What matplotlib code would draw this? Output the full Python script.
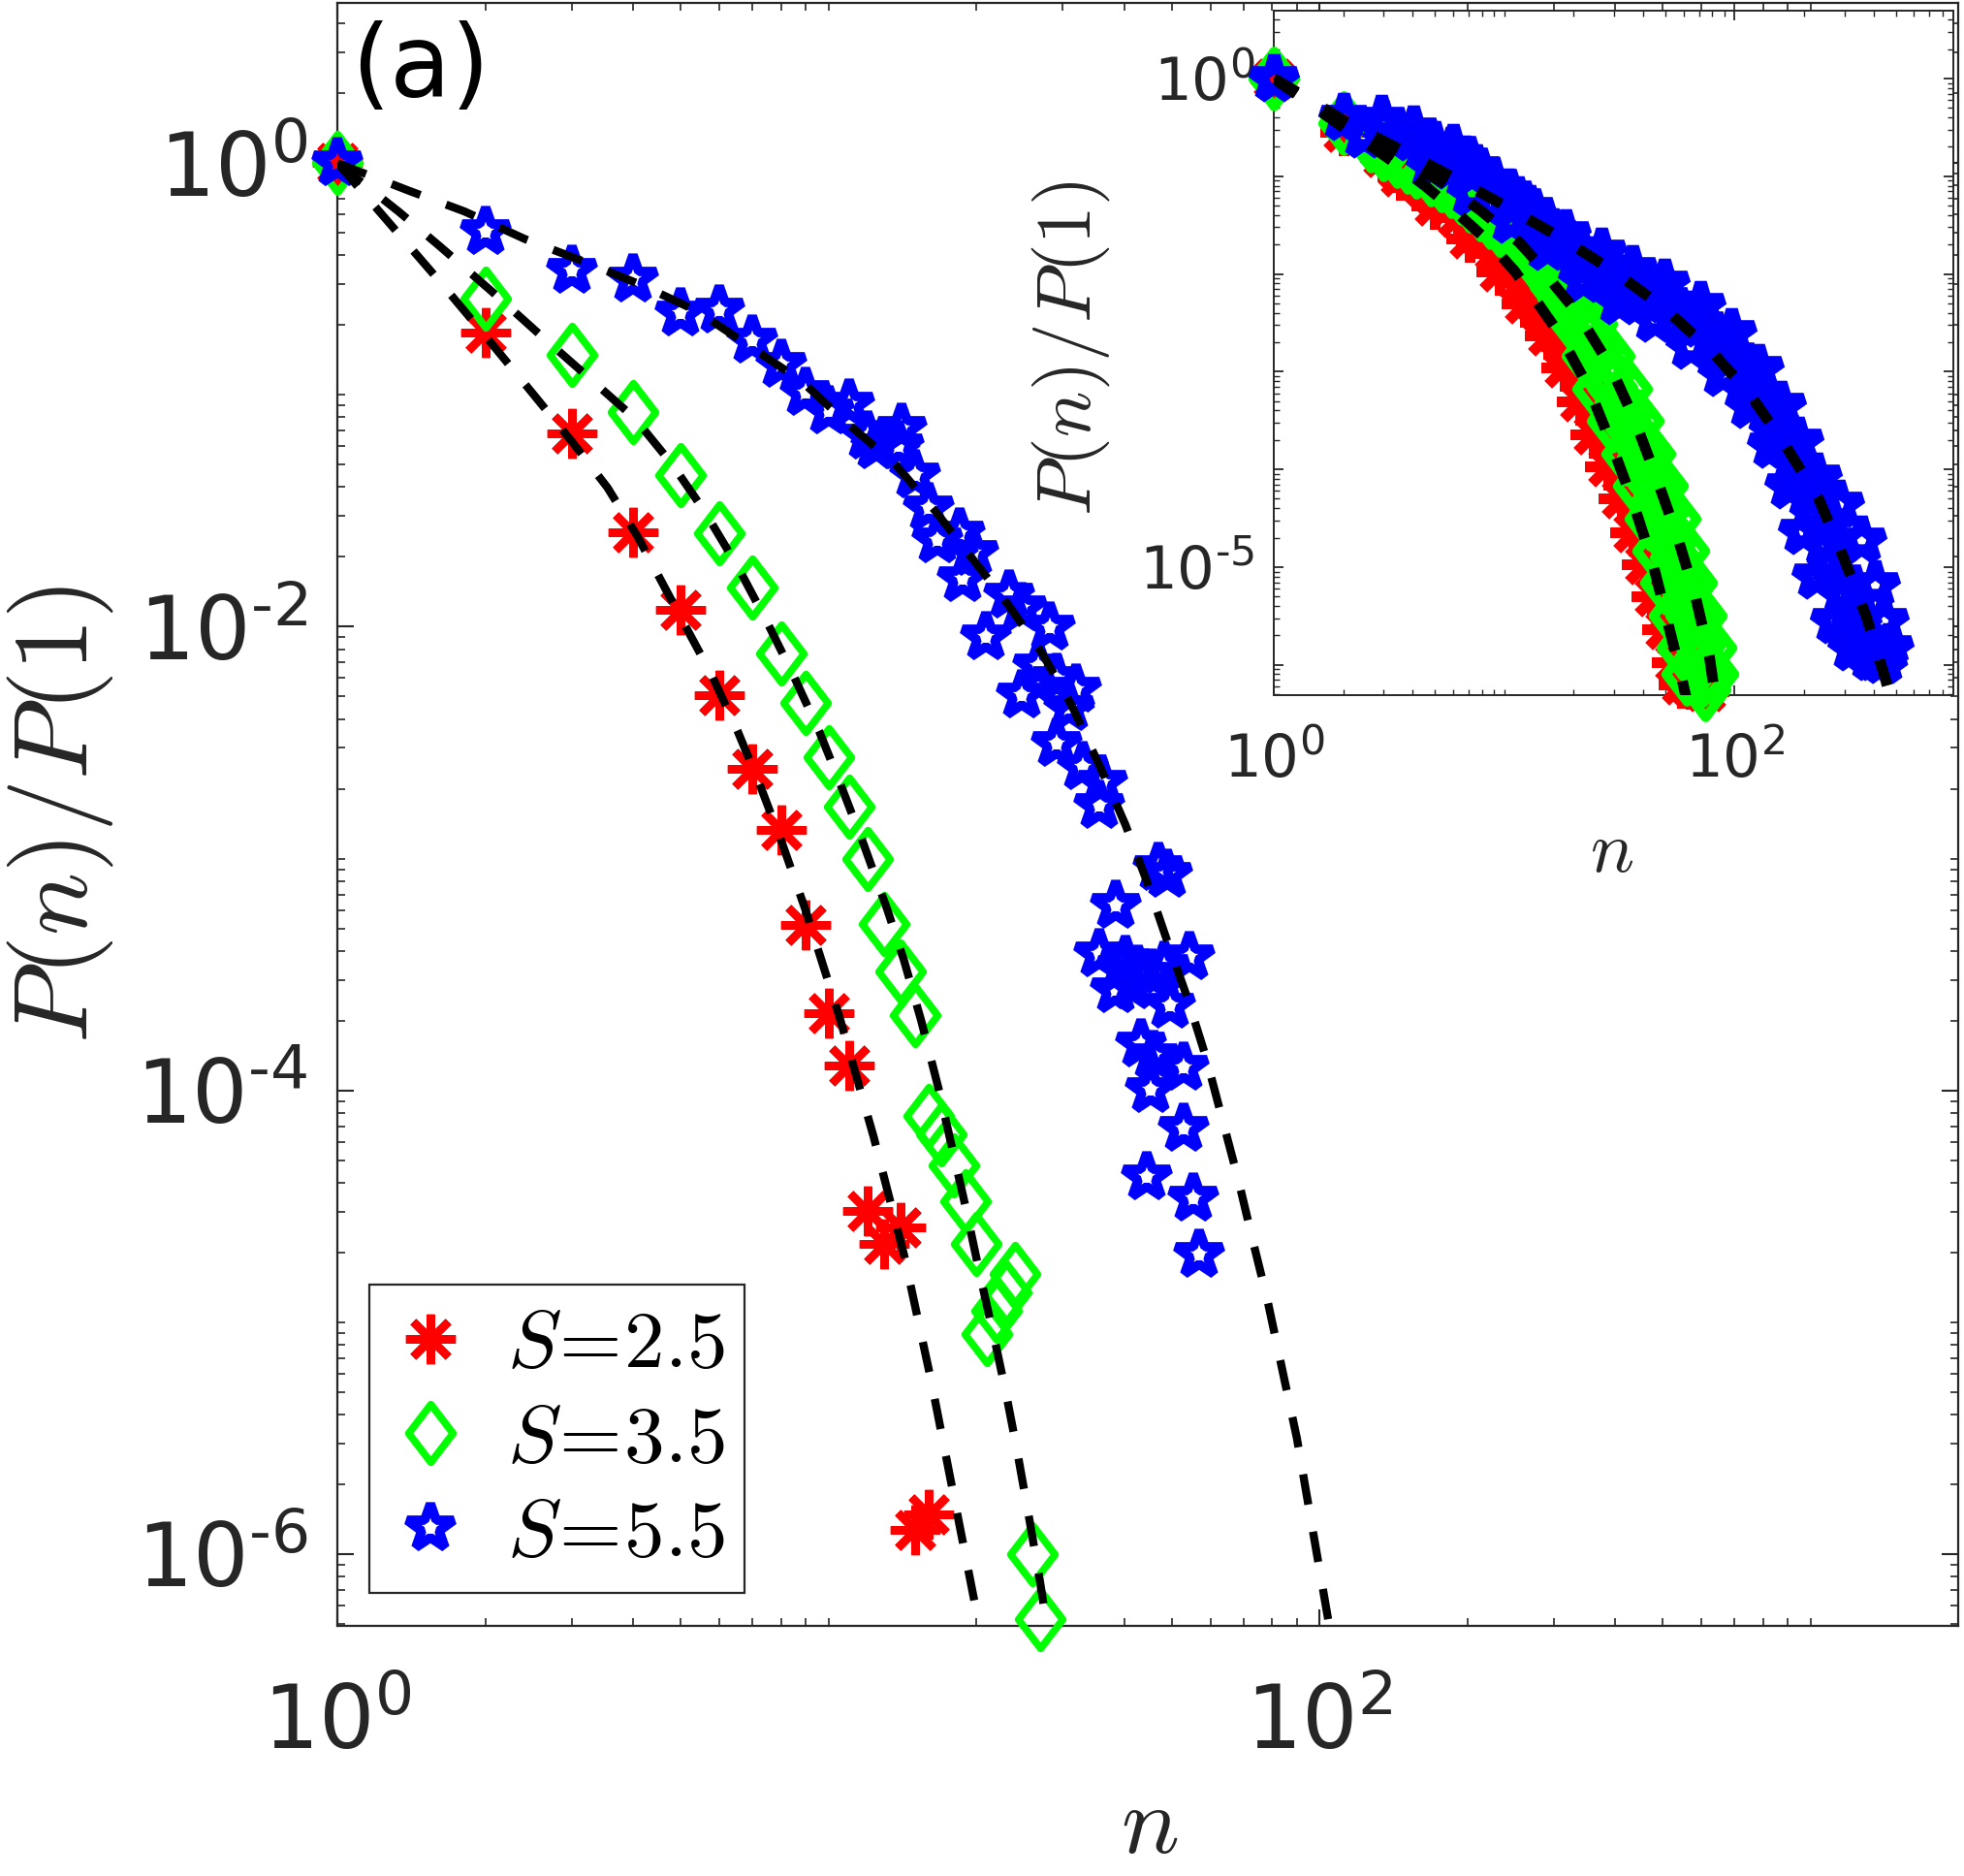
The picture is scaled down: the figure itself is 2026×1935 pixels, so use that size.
import numpy as np
import matplotlib
matplotlib.use('Agg')
import matplotlib.pyplot as plt
from matplotlib.path import Path
from matplotlib.ticker import FixedLocator, FixedFormatter, LogLocator, NullFormatter

plt.rcParams['font.family'] = ['DejaVu Sans']
plt.rcParams['mathtext.fontset'] = 'cm'

GREY = '#262626'
RED, GREEN, BLUE = '#ff0000', '#00ff00', '#0000ff'

# ---------------- main panel data (P(n)/P(1) stored as log10) ----------------
n_s25 = [1, 2, 3, 4, 5, 6, 7, 8, 9, 10, 11, 12, 13, 14, 15, 16]
logp_s25 = [0.0, -0.73, -1.165, -1.591, -1.927, -2.297, -2.611, -2.876, -3.286,
            -3.665, -3.892, -4.519, -4.66, -4.59, -5.897, -5.827]

n_s35 = [1, 2, 3, 4, 5, 6, 7, 8, 9, 10, 11, 12, 13, 14, 15, 16, 17, 18, 19, 20,
         21, 22, 23, 24, 26, 27]
logp_s35 = [0.0, -0.585, -0.828, -1.075, -1.344, -1.598, -1.83, -2.114, -2.329,
            -2.562, -2.777, -3.0, -3.28, -3.485, -3.676, -4.108, -4.19, -4.324,
            -4.48, -4.66, -5.05, -4.95, -4.87, -4.79, -6.0, -6.28]

n_s55 = [1, 2, 3, 4, 5, 6, 7, 8, 9, 10, 11, 12, 12.5, 14.1, 13.9, 15, 16, 16.7,
         18.5, 19.7, 18.8, 23.3, 20.9, 24.7, 28.3, 26.7, 24.7, 29.2, 31.0, 32.0,
         29.2, 33.0, 36.1, 35.6, 47.0, 49.0, 38.4, 35.6, 39.5, 40.2, 41.5, 42.7,
         45.5, 48.2, 54.4, 38.4, 49.7, 43.4, 46.0, 52.8, 45.4, 53.0, 44.4, 55.3,
         56.9]
logp_s55 = [0.0, -0.297, -0.463, -0.50, -0.649, -0.634, -0.765, -0.87, -0.99,
            -1.068, -1.04, -1.18, -1.222, -1.145, -1.222, -1.347, -1.487, -1.626,
            -1.598, -1.682, -1.794, -1.863, -2.045, -1.919, -2.003, -2.17, -2.296,
            -2.226, -2.351, -2.268, -2.505, -2.603, -2.672, -2.77, -3.04, -3.07,
            -3.202, -3.411, -3.47, -3.439, -3.55, -3.481, -3.50, -3.467, -3.425,
            -3.565, -3.635, -3.802, -3.85, -3.90, -3.997, -4.165, -4.374, -4.464,
            -4.708]

# fitted curves (dashed), log10 n vs log10 P
fit25_logn = [0.0, 0.1, 0.2, 0.301, 0.4, 0.477, 0.55, 0.611, 0.686, 0.762, 0.815,
              0.86, 0.906, 0.953, 1.022, 1.092, 1.154, 1.209, 1.272, 1.32]
fit25_logp = [0.0, -0.245, -0.49, -0.745, -1.0, -1.2, -1.4, -1.61, -1.908, -2.207,
              -2.45, -2.68, -2.936, -3.22, -3.68, -4.2, -4.71, -5.25, -5.93, -6.45]

fit35_logn = [0.0, 0.125, 0.209, 0.315, 0.407, 0.509, 0.605, 0.682, 0.747, 0.815,
              0.875, 0.928, 0.981, 1.027, 1.072, 1.12, 1.154, 1.189, 1.224, 1.251,
              1.279, 1.307, 1.341, 1.362, 1.383, 1.41, 1.431, 1.455]
fit35_logp = [0.0, -0.21, -0.36, -0.555, -0.73, -0.92, -1.10, -1.30, -1.50, -1.74,
              -1.98, -2.207, -2.45, -2.693, -2.94, -3.221, -3.44, -3.70, -3.99, -4.24,
              -4.50, -4.78, -5.10, -5.31, -5.54, -5.86, -6.12, -6.45]

fit55_logn = [0.0, 0.145, 0.259, 0.382, 0.502, 0.618, 0.732, 0.838, 0.943, 1.049,
              1.133, 1.216, 1.299, 1.367, 1.435, 1.495, 1.556, 1.605, 1.647, 1.69,
              1.732, 1.769, 1.802, 1.835, 1.864, 1.894, 1.954, 2.02, 2.03]
fit55_logp = [0.0, -0.119, -0.209, -0.328, -0.425, -0.525, -0.638, -0.788, -0.937,
              -1.142, -1.292, -1.497, -1.722, -1.908, -2.114, -2.338, -2.618, -2.855,
              -3.09, -3.356, -3.607, -3.858, -4.123, -4.388, -4.646, -4.904, -5.5,
              -6.31, -6.45]

# ---------------- inset data (log10 n, log10 P) ----------------
in25_logn = [0.0, 0.301, 0.477, 0.54, 0.596, 0.65, 0.70, 0.764, 0.80, 0.85, 0.89,
             0.919, 0.96, 1.0, 1.045, 1.07, 1.11, 1.143, 1.17, 1.21, 1.241, 1.26,
             1.29, 1.33, 1.35, 1.385, 1.40, 1.425, 1.445, 1.465, 1.49, 1.505, 1.53,
             1.545, 1.57, 1.585, 1.61, 1.625, 1.645, 1.66, 1.68, 1.69, 1.71, 1.72,
             1.74, 1.75, 1.765, 1.775, 1.79, 1.81, 1.84, 1.87,
             0.55, 0.70, 0.85, 0.98, 1.09, 1.19, 1.26, 1.33, 1.39, 1.45, 1.51,
             1.56, 1.61, 1.655, 1.70, 1.74, 1.77]
in25_logp = [0.0, -0.55, -0.80, -0.92, -0.98, -1.10, -1.19, -1.31, -1.42, -1.50,
             -1.60, -1.65, -1.77, -1.85, -1.97, -2.08, -2.17, -2.30, -2.41, -2.51,
             -2.63, -2.74, -2.83, -2.96, -3.08, -3.16, -3.29, -3.41, -3.51, -3.65,
             -3.74, -3.88, -3.98, -4.13, -4.24, -4.39, -4.49, -4.64, -4.76, -4.91,
             -5.02, -5.17, -5.29, -5.45, -5.56, -5.71, -5.82, -5.97, -6.09, -6.21,
             -6.12, -6.27,
             -1.0, -1.30, -1.64, -1.97, -2.30, -2.63, -2.96, -3.30, -3.64, -3.97,
             -4.30, -4.64, -4.97, -5.30, -5.64, -5.97, -6.2]

in35_logn = [0.0, 0.301, 0.421, 0.477, 0.533, 0.58, 0.617, 0.68, 0.729, 0.77,
             0.813, 0.85, 0.897, 0.94, 0.982, 1.02, 1.066, 1.11, 1.15, 1.185, 1.22,
             1.255, 1.29, 1.32, 1.343, 1.37, 1.40, 1.43, 1.45, 1.47, 1.50, 1.525,
             1.55, 1.582, 1.60, 1.625, 1.645, 1.665, 1.687, 1.705, 1.72, 1.74, 1.757,
             1.775, 1.79, 1.81, 1.834, 1.845, 1.855, 1.862, 1.87,
             1.308, 1.357, 1.407, 1.470, 1.533, 1.582, 1.631, 1.666, 1.701, 1.736,
             1.771, 1.792,
             1.378, 1.455, 1.533, 1.582, 1.631, 1.687, 1.743, 1.778, 1.813, 1.855,
             1.897, 1.904]
in35_logp = [0.0, -0.46, -0.64, -0.72, -0.79, -0.85, -0.905, -0.98, -1.04, -1.10,
             -1.17, -1.25, -1.34, -1.42, -1.50, -1.58, -1.67, -1.78, -1.90, -2.01,
             -2.13, -2.25, -2.37, -2.48, -2.56, -2.68, -2.80, -2.93, -3.05, -3.17,
             -3.31, -3.45, -3.58, -3.75, -3.88, -4.02, -4.16, -4.30, -4.45, -4.60,
             -4.75, -4.90, -5.05, -5.20, -5.35, -5.50, -5.65, -5.80, -5.95, -6.10,
             -6.25,
             -2.511, -2.842, -3.174, -3.506, -3.837, -4.169, -4.501, -4.833, -5.164,
             -5.496, -5.828, -6.093,
             -2.511, -2.842, -3.174, -3.506, -3.837, -4.169, -4.501, -4.833, -5.164,
             -5.496, -5.828, -6.093]

in55_logn = [0.0, 0.301, 0.477, 0.603, 0.70, 0.771, 0.83, 0.88, 0.954, 1.02, 1.06,
             1.11, 1.17, 1.21, 1.266, 1.32, 1.37, 1.422, 1.48, 1.52, 1.558, 1.61,
             1.65, 1.695, 1.74, 1.80, 1.851, 1.90, 1.94, 1.986, 2.03, 2.07, 2.103,
             2.14, 2.18, 2.22, 2.25, 2.29, 2.317, 2.35, 2.375, 2.395, 2.42, 2.45,
             2.473, 2.50, 2.53, 2.551, 2.58, 2.61, 2.64,
             0.467, 0.604, 0.779, 0.954, 1.110, 1.266, 1.422, 1.558, 1.695, 1.850,
             1.986, 2.103, 2.200, 2.278, 2.356, 2.454, 2.551, 2.610, 2.648, 2.668,
             0.389, 0.681, 0.857, 1.032, 1.188, 1.344, 1.499, 1.655, 1.811, 1.947,
             2.064, 2.162, 2.239, 2.298, 2.356, 2.434, 2.512, 2.590]
in55_logp = [0.0, -0.40, -0.474, -0.607, -0.68, -0.74, -0.83, -0.92, -1.05, -1.17,
             -1.25, -1.38, -1.50, -1.58, -1.68, -1.78, -1.87, -1.93, -2.03, -2.09,
             -2.13, -2.18, -2.22, -2.26, -2.33, -2.42, -2.51, -2.61, -2.71, -2.83,
             -2.98, -3.12, -3.25, -3.40, -3.57, -3.75, -3.92, -4.10, -4.26, -4.43,
             -4.60, -4.77, -4.94, -5.10, -5.27, -5.43, -5.58, -5.73, -5.85, -5.92,
             -5.95,
             -0.415, -0.530, -0.714, -1.082, -1.336, -1.589, -1.773, -1.958, -2.096,
             -2.326, -2.602, -2.971, -3.339, -3.708, -4.076, -4.353, -4.721, -5.182,
             -5.550, -5.827,
             -0.576, -0.898, -1.175, -1.451, -1.727, -2.050, -2.280, -2.464, -2.740,
             -3.017, -3.339, -3.754, -4.168, -4.629, -5.090, -5.550, -5.827, -5.919]

infit25_logn = [0.0, 0.301, 0.45, 0.596, 0.764, 0.919, 1.045, 1.143, 1.238, 1.365,
                1.47, 1.561, 1.645, 1.711, 1.771, 1.80]
infit25_logp = [0.0, -0.50, -0.74, -0.98, -1.31, -1.64, -1.97, -2.29, -2.61, -3.158,
                -3.771, -4.352, -4.965, -5.579, -6.143, -6.45]

infit35_logn = [0.0, 0.301, 0.533, 0.729, 0.897, 1.066, 1.15, 1.22, 1.316, 1.458,
                1.568, 1.663, 1.753, 1.831, 1.89, 1.92]
infit35_logp = [0.0, -0.46, -0.80, -1.06, -1.35, -1.68, -1.90, -2.12, -2.395, -2.935,
                -3.506, -4.103, -4.70, -5.313, -5.91, -6.4]

infit55_logn = [0.0, 0.058, 0.311, 0.526, 0.769, 0.993, 1.246, 1.48, 1.694, 1.889,
                2.064, 2.22, 2.366, 2.473, 2.571, 2.649, 2.69]
infit55_logp = [0.0, -0.078, -0.44, -0.70, -1.0, -1.29, -1.63, -1.98, -2.349, -2.764,
                -3.224, -3.754, -4.307, -4.906, -5.504, -6.103, -6.45]

labels = [r'$S\!=\!2.5$', r'$S\!=\!3.5$', r'$S\!=\!5.5$']

# MATLAB-like markers
DIAMOND = Path([(0, 1), (0.766, 0), (0, -1), (-0.766, 0), (0, 1)],
               [Path.MOVETO, Path.LINETO, Path.LINETO, Path.LINETO, Path.CLOSEPOLY])
ASTERISK = (8, 2, 0)


def pw(v):
    return 10.0 ** np.asarray(v, dtype=float)


def draw_series(axis, xs, ys, scale=1.0, wscale=1.0):
    hs = []
    hs.append(axis.plot(xs[0], ys[0], ls='none', marker=ASTERISK, ms=37 * scale,
                        mew=6.0 * wscale, color=RED, clip_on=False, zorder=3)[0])
    hs.append(axis.plot(xs[1], ys[1], ls='none', marker=DIAMOND, ms=43 * scale,
                        mew=5.5 * wscale, mec=GREEN, mfc='none', clip_on=False, zorder=3)[0])
    hs.append(axis.plot(xs[2], ys[2], ls='none', marker='*', ms=36 * scale,
                        mew=7.0 * wscale, mec=BLUE, mfc='none', clip_on=False, zorder=3)[0])
    return hs


def tex10(e):
    s = str(e) if e >= 0 else '\u2010' + str(-e)
    return '$\\mathregular{10^{' + s + '}}$'


fig = plt.figure(figsize=(20.26, 19.35), dpi=100)

# ---------------- main axes ----------------
ax = fig.add_axes([0.1718, 0.1333, 0.8253, 0.8651])
ax.set_xscale('log')
ax.set_yscale('log')

handles = draw_series(ax, [n_s25, n_s35, n_s55],
                      [pw(logp_s25), pw(logp_s35), pw(logp_s55)])

for fx, fy in [(fit25_logn, fit25_logp), (fit35_logn, fit35_logp), (fit55_logn, fit55_logp)]:
    ax.plot(pw(fx), pw(fy), color='k', lw=6, ls=(0, (3.8, 3.4)),
            dash_capstyle='butt', zorder=4)

ax.set_xlim(1, 2000)
ax.set_ylim(4.9e-7, 4.9)

ax.xaxis.set_major_locator(FixedLocator([1, 100]))
ax.xaxis.set_major_formatter(FixedFormatter([tex10(0), tex10(2)]))
ax.yaxis.set_major_locator(FixedLocator([1e-6, 1e-4, 1e-2, 1]))
ax.yaxis.set_major_formatter(FixedFormatter([tex10(-6), tex10(-4), tex10(-2), tex10(0)]))
for a in (ax.xaxis, ax.yaxis):
    a.set_minor_locator(LogLocator(base=10, subs=np.arange(1, 10), numticks=60))
    a.set_minor_formatter(NullFormatter())

ax.tick_params(which='both', direction='in', top=True, right=True,
               color=GREY, labelcolor=GREY)
ax.tick_params(which='major', length=12, width=1.5, labelsize=65)
ax.tick_params(which='minor', length=6, width=1.2)
ax.tick_params(axis='x', pad=42)
ax.tick_params(axis='y', pad=22)
for sp in ax.spines.values():
    sp.set_color(GREY)
    sp.set_linewidth(1.6)

leg = ax.legend(handles, labels, loc='lower left',
                bbox_to_anchor=(0.0197, 0.0203), borderaxespad=0,
                prop={'size': 60}, numpoints=1, handlelength=1.0,
                handletextpad=0.45, borderpad=0.25, labelspacing=0.2,
                fancybox=False, framealpha=1, edgecolor=GREY)
leg.get_frame().set_linewidth(1.6)

fig.text(0.1787, 0.9633, '(a)', fontsize=74, color='k', ha='left', va='center')
fig.text(0.0305, 0.5659, r'$P(n)/P(1)$', fontsize=78, color=GREY,
         rotation=90, ha='center', va='center')
fig.text(0.5854, 0.0265, r'$n$', fontsize=72, color=GREY, ha='center', va='center')

# ---------------- inset ----------------
axi = fig.add_axes([0.6486, 0.6295, 0.346, 0.3646])
axi.set_xscale('log')
axi.set_yscale('log')
axi.set_facecolor('white')

draw_series(axi, [pw(in25_logn), pw(in35_logn), pw(in55_logn)],
            [pw(in25_logp), pw(in35_logp), pw(in55_logp)], scale=0.95, wscale=1.3)

for fx, fy in [(infit25_logn, infit25_logp), (infit35_logn, infit35_logp),
               (infit55_logn, infit55_logp)]:
    axi.plot(pw(fx), pw(fy), color='k', lw=8, ls=(0, (2.5, 2.9)),
             dash_capstyle='butt', zorder=4)

axi.set_xlim(1, 890)
axi.set_ylim(4.9e-7, 4.9)
axi.xaxis.set_major_locator(FixedLocator([1, 100]))
axi.xaxis.set_major_formatter(FixedFormatter([tex10(0), tex10(2)]))
dec = [1e-6, 1e-5, 1e-4, 1e-3, 1e-2, 1e-1, 1]
axi.yaxis.set_major_locator(FixedLocator(dec))
axi.yaxis.set_major_formatter(FixedFormatter(['', tex10(-5), '', '', '', '', tex10(0)]))
for a in (axi.xaxis, axi.yaxis):
    a.set_minor_locator(LogLocator(base=10, subs=np.arange(1, 10), numticks=60))
    a.set_minor_formatter(NullFormatter())
axi.tick_params(which='both', direction='in', top=True, right=True,
                color=GREY, labelcolor=GREY)
axi.tick_params(which='major', length=7, width=1.3, labelsize=44)
axi.tick_params(which='minor', length=4, width=1.0)
axi.tick_params(axis='x', pad=28)
axi.tick_params(axis='y', pad=14)
for sp in axi.spines.values():
    sp.set_color(GREY)
    sp.set_linewidth(1.4)

fig.text(0.5454, 0.8145, r'$P(n)/P(1)$', fontsize=57, color=GREY,
         rotation=90, ha='center', va='center')
fig.text(0.8208, 0.5459, r'$n$', fontsize=54, color=GREY, ha='center', va='center')

fig.savefig('out.png', dpi=100)
